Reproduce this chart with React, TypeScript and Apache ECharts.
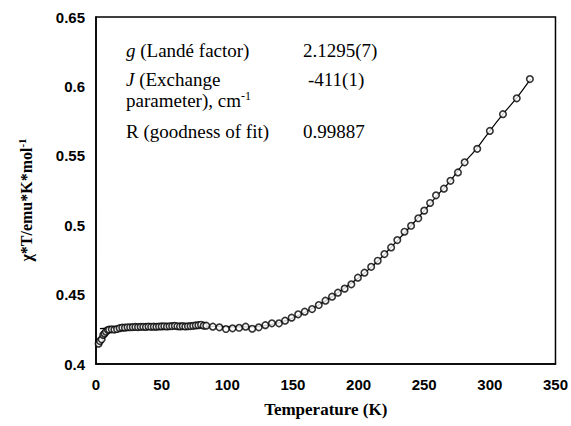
import React, { useEffect, useRef } from "react";
import * as echarts from "echarts";

// Measured points (T in K, chi*T)
const measuredT = [
  2, 3, 4.3, 5.5, 6.5, 7.6, 9, 10, 12, 14, 16, 18, 20, 22, 24, 26, 28, 30, 32, 34, 36, 38, 40,
  42, 44, 46, 48, 50, 52, 54, 56, 58, 60, 62, 64, 66, 68, 70, 72, 74, 76, 78, 80, 82, 84, 89,
  94, 99, 104, 109, 114, 119, 124, 129, 134, 139.4, 144, 149, 154, 159, 164.6, 169.7, 174.8,
  179.8, 184.3, 189.4, 194.5, 199.5, 204.5, 209.6, 214.6, 219.7, 224.8, 229.5, 235, 240, 245.5,
  250, 254.5, 259, 265, 270, 275.7, 280.8, 290.4, 300, 310, 320.5, 330.5,
];
const measuredChiT = [
  0.4146, 0.4165, 0.4178, 0.4209, 0.422, 0.4233, 0.4245, 0.4248, 0.425, 0.4248, 0.4252, 0.4258,
  0.4262, 0.4262, 0.4265, 0.4265, 0.4266, 0.4267, 0.4266, 0.4268, 0.4268, 0.4267, 0.427, 0.4268,
  0.4269, 0.4268, 0.427, 0.4271, 0.4272, 0.427, 0.4272, 0.4273, 0.4275, 0.4272, 0.4271, 0.4273,
  0.427, 0.4272, 0.4273, 0.4275, 0.4278, 0.428, 0.4283, 0.4276, 0.4276, 0.4269, 0.4264, 0.4252,
  0.4257, 0.4261, 0.4269, 0.4254, 0.4264, 0.428, 0.4293, 0.4293, 0.4312, 0.4334, 0.4358, 0.4377,
  0.4396, 0.4425, 0.4456, 0.4485, 0.4514, 0.4543, 0.4574, 0.4622, 0.4658, 0.47, 0.4744, 0.4792,
  0.484, 0.4893, 0.4953, 0.4996, 0.505, 0.5105, 0.516, 0.5215, 0.5263, 0.532, 0.538, 0.5453,
  0.555, 0.5679, 0.58, 0.5914, 0.6053,
];

// Fitted curve
const fitT = [3, 20, 50, 80, 100, 120, 130, 140, 150, 160, 170, 180, 190, 200, 210, 220, 230, 240, 250, 260, 270, 280, 290, 300, 310, 320, 331];
const fitChiT = [
  0.4255, 0.4264, 0.4271, 0.4272, 0.4268, 0.4268, 0.428, 0.4298, 0.4332, 0.4377, 0.4427, 0.4487,
  0.4551, 0.4622, 0.47, 0.4792, 0.4893, 0.4996, 0.5105, 0.5215, 0.532, 0.5445, 0.5552, 0.568,
  0.58, 0.5912, 0.6053,
];

const xTicks = [0, 50, 100, 150, 200, 250, 300, 350];
const yTicks = [0.4, 0.45, 0.5, 0.55, 0.6, 0.65];

const annotations = [
  { label: "{i|g} (Landé factor)", value: "2.1295(7)", y: 50, vx: 303 },
  { label: "{i|J} (Exchange", value: "-411(1)", y: 79, vx: 308 },
  { label: "parameter), cm{sup|-1}", value: "", y: 100, vx: 303 },
  { label: "R (goodness of fit)", value: "0.99887", y: 131, vx: 303 },
];

export default function App() {
  const ref = useRef<HTMLDivElement>(null);
  useEffect(() => {
    if (!ref.current) return;
    const chart = echarts.init(ref.current, null, { renderer: "svg" });
    const serif = "Liberation Serif";
    const sans = "Liberation Sans";
    const rich = {
      n: { fontFamily: serif, fontSize: 19, color: "#000" },
      i: { fontFamily: serif, fontStyle: "italic", fontSize: 19, color: "#000" },
      sup: { fontFamily: serif, fontSize: 12, color: "#000", verticalAlign: "top", padding: [0, 0, 9, 0] },
    };
    const graphics: any[] = [];
    annotations.forEach((a) => {
      graphics.push({
        type: "text",
        x: 126,
        y: a.y,
        style: {
          text: a.label,
          fontFamily: serif,
          fontSize: 19,
          fill: "#000",
          verticalAlign: "middle",
          rich,
        },
      });
      if (a.value)
        graphics.push({
          type: "text",
          x: a.vx,
          y: a.y,
          style: { text: a.value, fontFamily: serif, fontSize: 19, fill: "#000", verticalAlign: "middle" },
        });
    });
    graphics.push({
      type: "text",
      x: 26,
      y: 200,
      rotation: Math.PI / 2,
      style: {
        text: "χ*T/emu*K*mol{s|-1}",
        fontFamily: serif,
        fontWeight: "bold",
        fontSize: 16,
        fill: "#000",
        align: "center",
        verticalAlign: "middle",
        rich: {
          s: { fontFamily: serif, fontWeight: "bold", fontSize: 11, verticalAlign: "top", padding: [0, 0, 8, 0] },
        },
      },
    });
    chart.setOption({
      animation: false,
      backgroundColor: "#fff",
      grid: { left: 96, right: 13, top: 17, bottom: 62, show: true, borderColor: "#000", borderWidth: 1.5 },
      xAxis: {
        type: "value",
        min: 0,
        max: 350,
        interval: 50,
        name: "Temperature (K)",
        nameLocation: "middle",
        nameGap: 37,
        nameTextStyle: { fontFamily: serif, fontWeight: "bold", fontSize: 17, color: "#000" },
        axisLine: { show: true, lineStyle: { color: "#000", width: 1.5 } },
        axisTick: { show: false },
        splitLine: { show: false },
        axisLabel: {
          fontFamily: sans,
          fontWeight: "bold",
          fontSize: 15,
          color: "#000",
          margin: 13,
          customValues: xTicks,
        },
      },
      yAxis: {
        type: "value",
        min: 0.4,
        max: 0.65,
        interval: 0.05,
        axisLine: { show: true, lineStyle: { color: "#000", width: 1.5 } },
        axisTick: { show: false },
        splitLine: { show: false },
        axisLabel: {
          fontFamily: sans,
          fontWeight: "bold",
          fontSize: 15,
          color: "#000",
          margin: 11,
          formatter: (v: number) => {
            const r = Math.round(v * 100) / 100;
            return yTicks.includes(r) ? String(r) : "";
          },
        },
      },
      series: [
        {
          type: "line",
          data: fitT.map((t, i) => [t, fitChiT[i]]),
          showSymbol: false,
          smooth: 0.3,
          lineStyle: { color: "#000", width: 1.2 },
          z: 2,
        },
        {
          type: "scatter",
          data: measuredT.map((t, i) => [t, measuredChiT[i]]),
          symbol: "circle",
          symbolSize: 6.5,
          itemStyle: { color: "#fff", borderColor: "#000", borderWidth: 1.6 },
          z: 3,
        },
      ],
      graphic: graphics,
    });
    return () => chart.dispose();
  }, []);
  return (
    <div
      ref={ref}
      style={{ position: "fixed", left: 0, top: 0, width: 571, height: 426, background: "#fff" }}
    />
  );
}
